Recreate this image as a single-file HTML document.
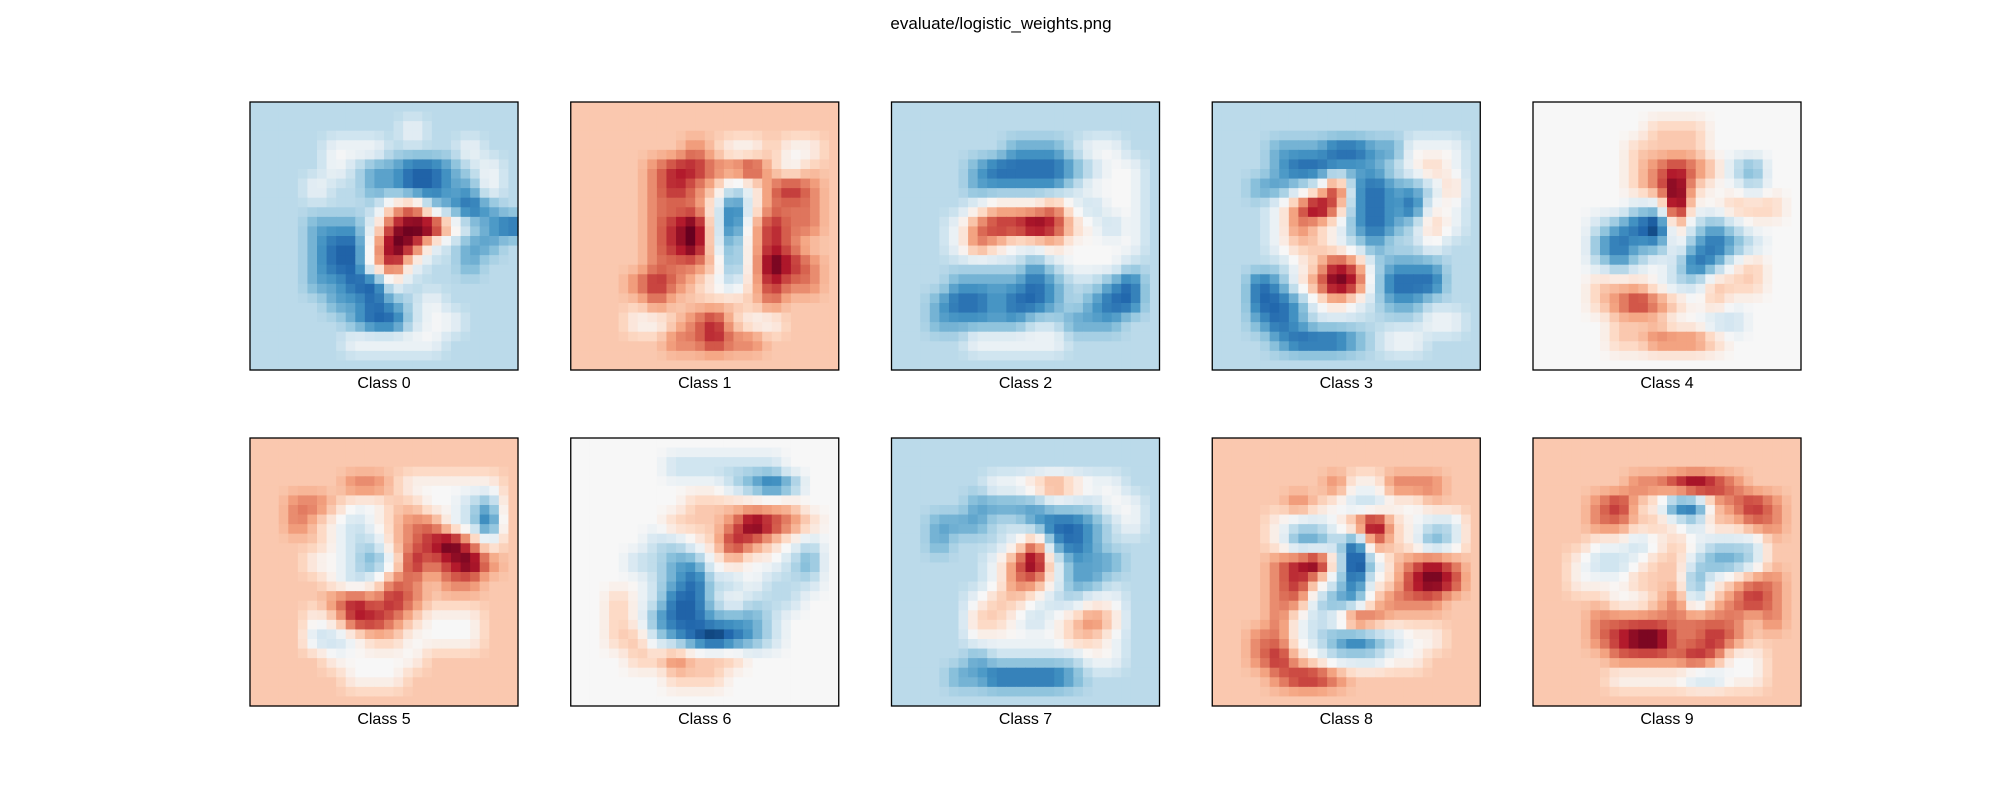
<!DOCTYPE html>
<html><head><meta charset="utf-8"><style>
html,body{margin:0;padding:0;background:#fff;}
svg{display:block;font-family:"Liberation Sans","DejaVu Sans",sans-serif;}
</style></head><body>
<svg id="fig" width="2000" height="800" viewBox="0 0 2000 800">
<rect x="0" y="0" width="2000" height="800" fill="#fff"/>
<text x="1001" y="29" text-anchor="middle" font-size="17" fill="#000">evaluate/logistic_weights.png</text>
</svg>
<script>
// Weight grids (14x14 coarse), digit 0=strongest negative, 4=zero, 8=strongest positive
const classLabels = ["Class 0","Class 1","Class 2","Class 3","Class 4","Class 5","Class 6","Class 7","Class 8","Class 9"];
const w0 = ["33333333333333","33333333433333","33334443333433","33334322112343","33343322112243","33333335632123","33322247885321","33321158743223","33321157433233","33322114333333","33332212343333","33333211344333","33333444443333","33333333333333"];
const w1 = ["55555555555555","55555555555555","55555565445445","55556776675455","55556765346765","55556664146665","55556784157665","55556784257655","55556665258765","55567654357665","55556555556555","55544567544555","55555667665555","55555555555555"];
const w2 = ["33333333333333","33333333333333","33333322234433","33332111123443","33332222234443","33334555643443","33346778754343","33346544544443","33333332344433","33322221233213","33211211232113","33222223322233","33334444433333","33333333333333"];
const w3 = ["33333333333333","33333333333333","33322211224443","33321122234543","33223472122353","33346862121443","33346542123543","33345543233433","33334576322233","33124687311133","33112454322333","33212333333443","33321112344333","33333333333333"];
const w4 = ["44444444444444","44444455544444","44444555544444","44444567653244","44444568544344","44444338445554","44432105323444","44421224212344","44432343124544","44455543355544","44456765454444","44445554433444","44445566654444","44444444444444"];
const w5 = ["55555555555555","55555555555555","55555665444445","55665445544325","55654345664315","55554335678645","55544324767865","55554346656655","55556767655555","55545776544455","55533455444455","55554444455555","55555444555555","55555555555555"];
const w6 = ["44444444444444","44444333333444","44444444321244","44444455555544","44444555687654","44443345765434","44433224544324","44443213343334","44543113433344","44542112223444","44553210123444","44455655544444","44444555444444","44444444444444"];
const w7 = ["33333333333333","33333333333333","33333445654433","33332222333443","33222332112343","33233346212333","33333468422233","33333466422333","33334554334433","33335543456533","33334444455433","33332333334433","33322111123333","33333333333333"];
const w8 = ["55555555555555","55555555555555","55555564466655","55556543344555","55543346854335","55542231654235","55567840356765","55567531457875","55566322566655","55564347655555","55664321234455","55675433344555","55567765555555","55555555555555"];
const w9 = ["55555555555555","55555555555555","55555667876555","55567541156765","55566554355665","55544345433355","55433455322355","55444555245665","55554456356765","55566666666565","55567886676555","55556666764455","55554444334455","55555555555555"];
const weightGrids = [w0,w1,w2,w3,w4,w5,w6,w7,w8,w9];

const NS = "http://www.w3.org/2000/svg";
const svg = document.getElementById("fig");
const panelSize = 268, colX0 = 250, colStep = 320.75, rowY = [102, 438], fineN = 28;
const anchors = [[-1,[5,48,97]],[-0.8,[33,102,172]],[-0.6,[67,147,195]],[-0.4,[146,197,222]],[-0.2,[209,229,240]],[0,[247,247,247]],[0.2,[253,219,199]],[0.4,[244,165,130]],[0.6,[214,96,77]],[0.8,[178,24,43]],[1,[103,0,31]]];
function colorScale(v){
  v = Math.max(-1, Math.min(1, v));
  for (let i = 0; i < anchors.length - 1; i++) {
    const [a, ca] = anchors[i], [b, cb] = anchors[i+1];
    if (v <= b) { const t = (v - a) / (b - a);
      return "rgb(" + ca.map((c,k)=>Math.round(c + (cb[k]-c)*t)).join(",") + ")"; }
  }
  return "rgb(103,0,31)";
}
function valueOf(ch){ return (parseInt(ch,10) - 4) / 4; }
function sample(grid, u, v){
  const n = grid.length;
  const cl = x => Math.max(0, Math.min(n - 1, x));
  const u0 = Math.floor(u), v0 = Math.floor(v), fu = u - u0, fv = v - v0;
  const g = (r, c) => valueOf(grid[cl(r)][cl(c)]);
  return g(v0,u0)*(1-fu)*(1-fv) + g(v0,u0+1)*fu*(1-fv) + g(v0+1,u0)*(1-fu)*fv + g(v0+1,u0+1)*fu*fv;
}

weightGrids.forEach((grid, p) => {
  const px = colX0 + (p % 5) * colStep, py = rowY[Math.floor(p / 5)];
  const n = grid.length, ratio = n / fineN, cs = panelSize / fineN;
  const g = document.createElementNS(NS, "g");
  
  
  svg.appendChild(g);
  for (let r = 0; r < fineN; r++) {
    for (let c = 0; c < fineN; c++) {
      const val = sample(grid, (c + 0.5) * ratio - 0.5, (r + 0.5) * ratio - 0.5);
      const rect = document.createElementNS(NS, "rect");
      rect.setAttribute("x", (px + c * cs).toFixed(2));
      rect.setAttribute("y", (py + r * cs).toFixed(2));
      rect.setAttribute("width", (cs + 0.6).toFixed(2));
      rect.setAttribute("height", (cs + 0.6).toFixed(2));
      rect.setAttribute("fill", colorScale(val * 1.08));
      
      
      g.appendChild(rect);
    }
  }
  const frame = document.createElementNS(NS, "rect");
  frame.setAttribute("x", px); frame.setAttribute("y", py);
  frame.setAttribute("width", panelSize); frame.setAttribute("height", panelSize);
  frame.setAttribute("fill", "none"); frame.setAttribute("stroke", "#000"); frame.setAttribute("stroke-width", "1.3");
  
  
  svg.appendChild(frame);
  const label = document.createElementNS(NS, "text");
  label.setAttribute("x", px + panelSize / 2);
  label.setAttribute("y", py + panelSize + 18);
  label.setAttribute("text-anchor", "middle");
  label.setAttribute("font-size", "16");
  label.textContent = classLabels[p];
  
  
  svg.appendChild(label);
});
</script>
</body></html>
